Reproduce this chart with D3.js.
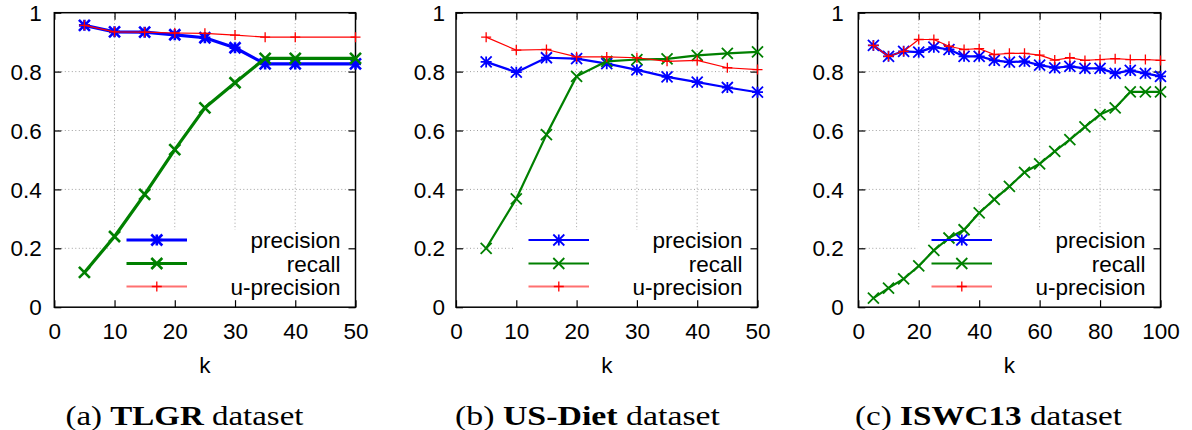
<!DOCTYPE html>
<html>
<head>
<meta charset="utf-8">
<script src="https://cdn.jsdelivr.net/npm/d3@7"></script>
<style>
  html, body { margin: 0; padding: 0; background: #fff; }
  svg { display: block; }
  .tick text { font-family: "Liberation Sans", Arial, Helvetica, sans-serif; font-size: 22.5px; fill: #000; }
</style>
</head>
<body>
<svg id="chart" width="1192" height="430"></svg>
<script>
// ---------- data ----------
const seriesNames = ["precision", "recall", "u-precision"];
const yTicks = [0, 0.2, 0.4, 0.6, 0.8, 1];
const yTickLabels = ["0", "0.2", "0.4", "0.6", "0.8", "1"];

// (a) TLGR
const kTLGR = [5, 10, 15, 20, 25, 30, 35, 40, 50];
const precisionTLGR = [0.957, 0.935, 0.934, 0.925, 0.915, 0.881, 0.826, 0.826, 0.826];
const recallTLGR = [0.118, 0.240, 0.383, 0.535, 0.677, 0.762, 0.845, 0.845, 0.845];
const uPrecisionTLGR = [0.957, 0.935, 0.934, 0.931, 0.930, 0.924, 0.917, 0.917, 0.917];
const xTicksTLGR = [0, 10, 20, 30, 40, 50];

// (b) US-Diet
const kDiet = [5, 10, 15, 20, 25, 30, 35, 40, 45, 50];
const precisionDiet = [0.833, 0.798, 0.847, 0.844, 0.827, 0.806, 0.782, 0.764, 0.746, 0.730];
const recallDiet = [0.200, 0.368, 0.586, 0.784, 0.835, 0.841, 0.843, 0.855, 0.862, 0.867];
const uPrecisionDiet = [0.917, 0.873, 0.875, 0.850, 0.850, 0.847, 0.835, 0.838, 0.813, 0.807];
const xTicksDiet = [0, 10, 20, 30, 40, 50];

// (c) ISWC13
const kISWC = [5, 10, 15, 20, 25, 30, 35, 40, 45, 50, 55, 60, 65, 70, 75, 80, 85, 90, 95, 100];
const precisionISWC = [0.889, 0.852, 0.869, 0.866, 0.883, 0.875, 0.852, 0.852, 0.838, 0.832, 0.835, 0.822, 0.813, 0.818, 0.811, 0.811, 0.794, 0.804, 0.794, 0.784];
const recallISWC = [0.031, 0.065, 0.096, 0.140, 0.193, 0.235, 0.263, 0.320, 0.366, 0.410, 0.458, 0.487, 0.529, 0.569, 0.612, 0.654, 0.677, 0.731, 0.731, 0.731];
const uPrecisionISWC = [0.889, 0.852, 0.869, 0.909, 0.909, 0.886, 0.875, 0.878, 0.858, 0.862, 0.862, 0.856, 0.839, 0.847, 0.838, 0.841, 0.844, 0.841, 0.841, 0.838];
const xTicksISWC = [0, 20, 40, 60, 80, 100];

const captionLabels = ["(a) ", "(b) ", "(c) "];
const captionNames = ["TLGR", "US-Diet", "ISWC13"];
const captionSuffix = " dataset";

// ---------- layout ----------
const panels = [
  { k: kTLGR, vals: [precisionTLGR, recallTLGR, uPrecisionTLGR], xTicks: xTicksTLGR, xMax: 50,
    left: 54.3, right: 355.5, labelGap: 12.5, thick: true, capX: 184.5, capW: 238 },
  { k: kDiet, vals: [precisionDiet, recallDiet, uPrecisionDiet], xTicks: xTicksDiet, xMax: 50,
    left: 456, right: 757.5, labelGap: 11, thick: false, capX: 587.5, capW: 265 },
  { k: kISWC, vals: [precisionISWC, recallISWC, uPrecisionISWC], xTicks: xTicksISWC, xMax: 100,
    left: 858.3, right: 1160.5, labelGap: 14.5, thick: false, capX: 988.5, capW: 267 }
];
const plotTop = 12.7, plotBottom = 307.2;
const colors = ["#0000ff", "#008000", "#ff0000"];
const markers = ["star", "cross", "plus"];

const svg = d3.select("#chart");

function markerPath(type, r) {
  const p = d3.path();
  if (type === "plus" || type === "star") {
    p.moveTo(-r, 0); p.lineTo(r, 0);
    p.moveTo(0, -r); p.lineTo(0, r);
  }
  if (type === "cross" || type === "star") {
    p.moveTo(-r, -r); p.lineTo(r, r);
    p.moveTo(-r, r); p.lineTo(r, -r);
  }
  return p.toString();
}

panels.forEach((P, pi) => {
  const x = d3.scaleLinear().domain([0, P.xMax]).range([P.left, P.right]);
  const y = d3.scaleLinear().domain([0, 1]).range([plotBottom, plotTop]);
  const g = svg.append("g");

  // grid
  const grid = g.append("g").attr("stroke", "#a0a0a0").attr("stroke-width", 1).attr("stroke-dasharray", "1,2.5");
  P.xTicks.slice(1, -1).forEach(t => {
    grid.append("line").attr("x1", x(t)).attr("x2", x(t)).attr("y1", plotTop).attr("y2", plotBottom);
  });
  yTicks.slice(1, -1).forEach(t => {
    grid.append("line").attr("x1", P.left).attr("x2", P.right).attr("y1", y(t)).attr("y2", y(t));
  });

  // opaque legend box
  const R = P.right;
  g.append("rect").attr("x", R - 243).attr("y", 230).attr("width", 243).attr("height", plotBottom - 230)
    .attr("fill", "#fff");

  // axes (ticks inward, mirrored)
  const yLabel = d => yTickLabels[yTicks.indexOf(d)];
  const ax = g.append("g").attr("transform", `translate(0,${plotBottom})`)
    .call(d3.axisBottom(x).tickValues(P.xTicks).tickSizeInner(-7).tickSizeOuter(0).tickPadding(16));
  const ay = g.append("g").attr("transform", `translate(${P.left},0)`)
    .call(d3.axisLeft(y).tickValues(yTicks).tickFormat(yLabel).tickSizeInner(-7).tickSizeOuter(0).tickPadding(P.labelGap));
  const at = g.append("g").attr("transform", `translate(0,${plotTop})`)
    .call(d3.axisTop(x).tickValues(P.xTicks).tickSizeInner(-7).tickSizeOuter(0).tickFormat(""));
  const ar = g.append("g").attr("transform", `translate(${P.right},0)`)
    .call(d3.axisRight(y).tickValues(yTicks).tickSizeInner(-7).tickSizeOuter(0).tickFormat(""));
  [ax, ay, at, ar].forEach(a => {
    a.select(".domain").remove();
    a.selectAll(".tick line").attr("stroke", "#000").attr("stroke-width", 1.2);
  });
  ay.selectAll(".tick text").attr("dy", "0.34em");

  // frame
  g.append("rect").attr("x", P.left).attr("y", plotTop).attr("width", P.right - P.left).attr("height", plotBottom - plotTop)
    .attr("fill", "none").attr("stroke", "#000").attr("stroke-width", 1.5);

  // x label
  g.append("text").attr("x", (P.left + P.right) / 2).attr("y", 373)
    .attr("text-anchor", "middle")
    .style("font-family", "'Liberation Sans', Arial, sans-serif").style("font-size", "22.5px")
    .text("k");

  // data
  const lw = P.thick ? [3.2, 3.2, 1.2] : [2.2, 2.2, 1.2];
  const mw = P.thick ? [2.6, 2.6, 1.3] : [1.8, 1.8, 1.3];
  const mr = [5.5, 5.5, 5];
  P.vals.forEach((vals, si) => {
    const pts = P.k.map((kk, i) => [x(kk), y(vals[i])]);
    g.append("path").attr("d", d3.line()(pts)).attr("fill", "none")
      .attr("stroke", colors[si]).attr("stroke-width", lw[si]).attr("stroke-linejoin", "round");
    g.append("g").selectAll("path").data(pts).join("path")
      .attr("transform", d => `translate(${d[0]},${d[1]})`)
      .attr("d", markerPath(markers[si], mr[si]))
      .attr("fill", "none").attr("stroke", colors[si]).attr("stroke-width", mw[si]);
  });

  // legend
  const rows = [240, 263.5, 286.5];
  seriesNames.forEach((name, si) => {
    const ly = rows[si];
    g.append("line").attr("x1", R - 229).attr("x2", R - 168.5).attr("y1", ly).attr("y2", ly)
      .attr("stroke", si === 2 ? "#ff7070" : colors[si]).attr("stroke-width", si === 2 ? 1.8 : lw[si]);
    g.append("path").attr("transform", `translate(${R - 198.7},${ly})`)
      .attr("d", markerPath(markers[si], mr[si])).attr("fill", "none")
      .attr("stroke", colors[si]).attr("stroke-width", mw[si]);
    g.append("text").attr("x", R - 15).attr("y", ly + 8).attr("text-anchor", "end")
      .style("font-family", "'Liberation Sans', Arial, sans-serif").style("font-size", "22.5px")
      .text(name);
  });

  // caption
  const cap = svg.append("text").attr("x", P.capX).attr("y", 425).attr("text-anchor", "middle")
    .style("font-family", "'Liberation Serif', 'Times New Roman', serif").style("font-size", "28px");
  cap.append("tspan").text(captionLabels[pi]);
  cap.append("tspan").style("font-weight", "bold").text(captionNames[pi]);
  cap.append("tspan").text(captionSuffix);
  cap.attr("textLength", P.capW).attr("lengthAdjust", "spacingAndGlyphs");
});
</script>
</body>
</html>
